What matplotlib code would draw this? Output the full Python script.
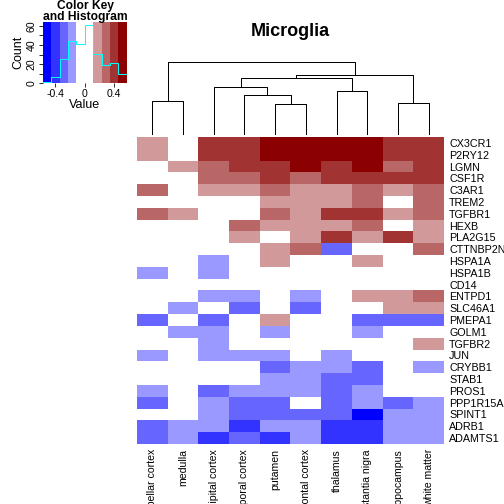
import matplotlib
matplotlib.use('Agg')
import matplotlib.pyplot as plt
from matplotlib.colors import ListedColormap, BoundaryNorm
import numpy as np

plt.rcParams['font.family'] = 'Liberation Sans'

# ---- data ----
col_labels = ['cerebellar cortex', 'medulla', 'occipital cortex', 'temporal cortex',
              'putamen', 'frontal cortex', 'thalamus', 'substantia nigra',
              'hippocampus', 'white matter']
row_labels = ['CX3CR1', 'P2RY12', 'LGMN', 'CSF1R', 'C3AR1', 'TREM2', 'TGFBR1',
              'HEXB', 'PLA2G15', 'CTTNBP2NL', 'HSPA1A', 'HSPA1B', 'CD14', 'ENTPD1',
              'SLC46A1', 'PMEPA1', 'GOLM1', 'TGFBR2', 'JUN', 'CRYBB1', 'STAB1',
              'PROS1', 'PPP1R15A', 'SPINT1', 'ADRB1', 'ADAMTS1']

values = [
    [0.17, 0, 0.40, 0.40, 0.52, 0.52, 0.52, 0.52, 0.40, 0.40],
    [0.17, 0, 0.40, 0.40, 0.52, 0.52, 0.52, 0.52, 0.40, 0.40],
    [0, 0.17, 0.29, 0.40, 0.40, 0.52, 0.40, 0.52, 0.29, 0.40],
    [0, 0, 0.29, 0.29, 0.40, 0.29, 0.40, 0.40, 0.40, 0.40],
    [0.29, 0, 0.17, 0.17, 0.29, 0.17, 0.17, 0.29, 0.17, 0.29],
    [0, 0, 0, 0, 0.17, 0.17, 0.17, 0.29, 0, 0.29],
    [0.29, 0.17, 0, 0, 0.29, 0.17, 0.40, 0.40, 0.17, 0.29],
    [0, 0, 0, 0.29, 0.17, 0.17, 0.17, 0.29, 0, 0.17],
    [0, 0, 0, 0.17, 0, 0.17, 0.40, 0.17, 0.40, 0.17],
    [0, 0, 0, 0, 0.17, 0.29, -0.29, 0, 0, 0.29],
    [0, 0, -0.17, 0, 0.17, 0, 0, 0.17, 0, 0],
    [-0.17, 0, -0.17, 0, 0, 0, 0, 0, 0, 0],
    [0, 0, 0, 0, 0, 0, 0, 0, 0, 0],
    [0, 0, -0.17, -0.17, 0, -0.17, 0, 0.17, 0.17, 0.29],
    [0, -0.17, 0, -0.29, 0, -0.29, 0, 0, 0.17, 0.17],
    [-0.29, 0, -0.29, 0, 0.17, 0, 0, -0.29, -0.29, -0.29],
    [0, -0.17, -0.17, 0, -0.17, 0, 0, -0.17, 0, 0],
    [0, 0, -0.17, 0, 0, 0, 0, 0, 0, 0.17],
    [-0.17, 0, -0.17, -0.17, -0.17, 0, -0.17, 0, 0, 0],
    [0, 0, 0, 0, -0.29, -0.17, -0.17, -0.29, 0, -0.17],
    [0, 0, 0, 0, -0.17, -0.17, -0.29, -0.29, 0, 0],
    [-0.17, 0, -0.29, -0.17, -0.17, -0.17, -0.29, -0.17, 0, 0],
    [-0.29, 0, -0.17, -0.29, -0.29, 0, -0.29, -0.17, -0.29, -0.17],
    [0, 0, -0.17, -0.29, -0.29, -0.29, -0.29, -0.52, -0.17, -0.17],
    [-0.29, -0.17, -0.17, -0.40, -0.17, -0.17, -0.40, -0.40, -0.17, -0.17],
    [-0.29, -0.17, -0.40, -0.29, -0.40, -0.17, -0.40, -0.40, -0.17, -0.17],
]

# column dendrogram: merges (node ids, leaves are 0..9) and heights
merges = [(4, 5), (8, 9), (0, 1), (3, 10), (6, 7), (2, 13), (15, 14), (16, 11), (12, 17)]
merge_heights = [29.7, 30.7, 32.7, 38.7, 42.7, 47.0, 55.7, 58.7, 72.0]

# colour key
key_breaks = np.linspace(-0.575, 0.575, 11)
key_colors = ['#0000FF', '#3333FF', '#6666FF', '#9999FF', '#FFFFFF', '#FFFFFF',
              '#D19999', '#B96666', '#A23333', '#8B0000']
key_counts = [1, 7, 25, 44, 41, 61, 31, 19, 21, 10]

cmap = ListedColormap(key_colors)
norm = BoundaryNorm(key_breaks, cmap.N)

W = 504.
def box(l, t, r, b):
    return [l / W, 1 - b / W, (r - l) / W, (b - t) / W]

fig = plt.figure(figsize=(7, 7), dpi=72)

# heatmap
ax = fig.add_axes(box(137, 137, 444, 444))
ax.imshow(np.array(values), cmap=cmap, norm=norm, aspect='auto',
          interpolation='nearest', extent=(0, 10, 26, 0))
ax.set_xticks(np.arange(10) + 0.5, col_labels, rotation=90, fontsize=10.5)
ax.set_yticks(np.arange(26) + 0.5, row_labels, fontsize=10.7)
ax.yaxis.tick_right()
ax.tick_params(length=0, pad=5)
for s in ax.spines.values():
    s.set_visible(False)

# dendrogram
dax = fig.add_axes(box(137, 62, 444, 134))
pos = {i: i + 0.5 for i in range(10)}
hgt = {i: 0.0 for i in range(10)}
for k, ((a, b), h) in enumerate(zip(merges, merge_heights)):
    dax.plot([pos[a], pos[a], pos[b], pos[b]], [hgt[a], h, h, hgt[b]],
             color='black', lw=1, clip_on=False)
    pos[10 + k] = (pos[a] + pos[b]) / 2
    hgt[10 + k] = h
dax.set_xlim(0, 10)
dax.set_ylim(0, max(merge_heights))
dax.axis('off')

# colour key with histogram
kax = fig.add_axes(box(42.7, 21.7, 126.7, 83.3))
ytop = max(key_counts) / 0.95
mids = (key_breaks[:-1] + key_breaks[1:]) / 2
kax.pcolormesh(key_breaks, [0, ytop], mids[np.newaxis, :], cmap=cmap, norm=norm)
kax.plot(key_breaks, key_counts + [key_counts[-1]], drawstyle='steps-post',
         color='cyan', lw=1)
kax.set_xlim(key_breaks[0], key_breaks[-1])
kax.set_ylim(0, ytop)
for s in kax.spines.values():
    s.set_visible(False)
kax.set_xticks([-0.4, 0, 0.4], ['-0.4', '0', '0.4'], fontsize=10.5)
kax.set_yticks(range(0, 70, 10), ['0', '', '20', '', '40', '', '60'], fontsize=10.5)
kax.tick_params(axis='y', labelrotation=90, length=4, pad=2)
kax.tick_params(axis='x', length=4, pad=2)
for t in kax.get_yticklabels():
    t.set_va('center')
kax.set_xlabel('Value', fontsize=12.5, labelpad=0)
kax.set_ylabel('Count', fontsize=12.5, labelpad=2)

fig.text(85 / W, 1 - 5.5 / W, 'Color Key', fontsize=12, weight='bold',
         ha='center', va='center')
fig.text(85 / W, 1 - 17 / W, 'and Histogram', fontsize=12, weight='bold',
         ha='center', va='center')

fig.text(290.5 / W, 1 - 31 / W, 'Microglia', fontsize=18, weight='bold',
         ha='center', va='center')

fig.savefig('out.png', dpi=72)
